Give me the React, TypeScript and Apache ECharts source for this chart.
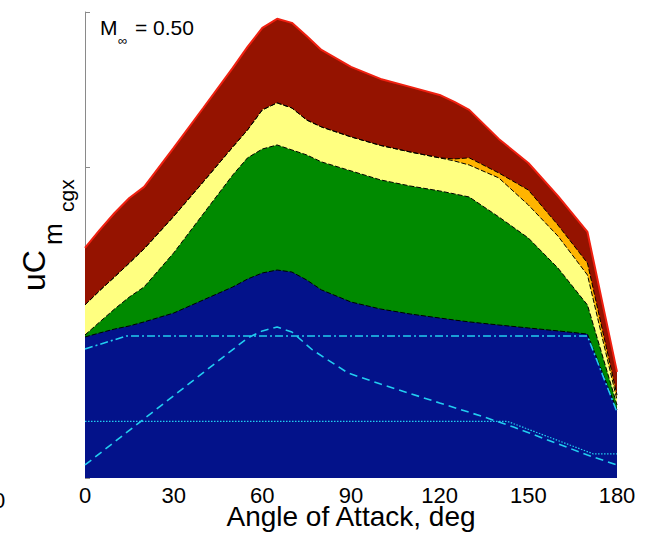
import React, { useEffect, useRef } from "react";
import * as echarts from "echarts";

// Angle of attack grid (deg)
const angles = [0, 5, 10, 15, 20, 30, 40, 50, 55, 60, 65, 70, 75, 80, 90, 100, 110, 120, 125, 130, 140, 150, 160, 170, 180];

// Cumulative layer boundaries (top of each stacked band)
const redTop = [1.481, 1.597, 1.706, 1.803, 1.874, 2.125, 2.382, 2.64, 2.775, 2.898, 2.956, 2.93, 2.846, 2.756, 2.647, 2.569, 2.518, 2.466, 2.421, 2.37, 2.183, 2.028, 1.816, 1.584, 0.683];
const orangeTop = [1.114, 1.207, 1.294, 1.384, 1.475, 1.684, 1.906, 2.131, 2.241, 2.37, 2.415, 2.382, 2.305, 2.26, 2.196, 2.141, 2.099, 2.061, 2.054, 2.061, 1.964, 1.854, 1.629, 1.384, 0.534];
const yellowTop = [1.114, 1.207, 1.294, 1.384, 1.475, 1.684, 1.906, 2.131, 2.241, 2.37, 2.415, 2.382, 2.305, 2.26, 2.196, 2.141, 2.099, 2.061, 2.041, 2.015, 1.932, 1.758, 1.558, 1.307, 0.502];
const greenTop = [0.921, 1.005, 1.088, 1.165, 1.23, 1.449, 1.7, 1.951, 2.061, 2.118, 2.144, 2.112, 2.08, 2.035, 1.977, 1.919, 1.88, 1.848, 1.829, 1.809, 1.681, 1.545, 1.352, 1.114, 0.47];
const blueTop = [0.908, 0.934, 0.959, 0.979, 1.005, 1.062, 1.146, 1.23, 1.281, 1.32, 1.339, 1.326, 1.275, 1.211, 1.133, 1.088, 1.056, 1.03, 1.017, 1.005, 0.985, 0.966, 0.947, 0.927, 0.438];

// Cyan reference lines
const dashDotX = [0, 14, 170, 180];
const dashDotY = [0.831, 0.914, 0.914, 0.425];
const dashedX = [0, 55, 60, 65, 70, 77, 89, 100, 120, 135, 145, 170, 180];
const dashedY = [0.084, 0.901, 0.947, 0.972, 0.94, 0.824, 0.676, 0.605, 0.483, 0.393, 0.328, 0.148, 0.084];
const dottedX = [0, 143, 172, 180];
const dottedY = [0.364, 0.364, 0.155, 0.155];

const xTicks = [0, 30, 60, 90, 120, 150, 180];

const FONT = "'Liberation Sans', Arial, Helvetica, sans-serif";

const pairs = (xs: number[], ys: number[]) => xs.map((x, i) => [x, ys[i]]);

export default function App() {
  const ref = useRef<HTMLDivElement>(null);
  useEffect(() => {
    if (!ref.current) return;
    const chart = echarts.init(ref.current, undefined, { renderer: "svg" });
    const bandDash = { color: "#000", width: 1, type: [5, 2] as any };
    const band = (name: string, data: number[], fill: string, line: any) => ({
      name,
      type: "line",
      data: pairs(angles, data),
      symbol: "none",
      silent: true,
      lineStyle: line,
      areaStyle: { color: fill, opacity: 1 },
    });
    const cyan = (name: string, xs: number[], ys: number[], type: any, width: number) => ({
      name,
      type: "line",
      data: pairs(xs, ys),
      symbol: "none",
      silent: true,
      z: 5,
      lineStyle: { color: "#22cdf0", width, type },
    });
    chart.setOption({
      animation: false,
      grid: { left: 85, right: 37, top: 12, bottom: 57, outerBoundsMode: "none", containLabel: false },
      xAxis: {
        type: "value",
        min: 0,
        max: 180,
        interval: 30,
        axisLine: { show: false },
        axisTick: { show: false },
        splitLine: { show: false },
        axisLabel: {
          color: "#000",
          fontSize: 22,
          lineHeight: 17,
          fontFamily: FONT,
          margin: 9,
          customValues: xTicks,
        },
        name: "Angle of Attack, deg",
        nameLocation: "middle",
        nameGap: 27,
        nameMoveOverlap: false,
        nameTextStyle: { color: "#000", fontSize: 28, lineHeight: 22, fontFamily: FONT },
      },
      yAxis: {
        type: "value",
        min: 0,
        max: 3,
        interval: 1,
        axisLine: { show: true, lineStyle: { color: "#8a8a8a", width: 1 } },
        axisTick: { show: true, inside: true, length: 5, lineStyle: { color: "#8a8a8a" } },
        axisLabel: { show: false },
        splitLine: { show: false },
      },
      series: [
        band("red", redTop, "#951300", { color: "#f02010", width: 2 }),
        band("orange", orangeTop, "#ffb400", bandDash),
        band("yellow", yellowTop, "#ffff80", bandDash),
        band("green", greenTop, "#008a00", bandDash),
        band("blue", blueTop, "#03128a", bandDash),
        cyan("dashdot", dashDotX, dashDotY, [8, 3, 2, 3], 1.6),
        cyan("dashed", dashedX, dashedY, [8, 5], 1.6),
        cyan("dotted", dottedX, dottedY, [1.5, 1.5], 1.2),
      ],
      graphic: [
        { type: "text", x: 100, y: 27.5, z: 10, style: { text: "M", fontSize: 21, fontFamily: FONT, fill: "#000", verticalAlign: "middle" } },
        { type: "text", x: 118, y: 40, z: 10, style: { text: "∞", fontSize: 13, fontFamily: FONT, fill: "#000", verticalAlign: "middle" } },
        { type: "text", x: 135, y: 27.5, z: 10, style: { text: "= 0.50", fontSize: 21, fontFamily: FONT, fill: "#000", verticalAlign: "middle" } },
        { type: "text", x: 33.8, y: 291, rotation: Math.PI / 2, z: 10, style: { text: "uC", fontSize: 32, fontFamily: FONT, fill: "#000", verticalAlign: "middle", align: "left" } },
        { type: "text", x: 53, y: 245, rotation: Math.PI / 2, z: 10, style: { text: "m", fontSize: 26, fontFamily: FONT, fill: "#000", verticalAlign: "middle", align: "left" } },
        { type: "text", x: 66, y: 212, rotation: Math.PI / 2, z: 10, style: { text: "cgx", fontSize: 21, fontFamily: FONT, fill: "#000", verticalAlign: "middle", align: "left" } },
        { type: "text", x: -7, y: 489, z: 10, style: { text: "0", fontSize: 22, fontFamily: FONT, fill: "#000", verticalAlign: "top" } },
      ],
    });
    return () => chart.dispose();
  }, []);
  return (
    <div
      ref={ref}
      style={{ position: "fixed", left: 0, top: 0, width: 654, height: 535, background: "#fff" }}
    />
  );
}
